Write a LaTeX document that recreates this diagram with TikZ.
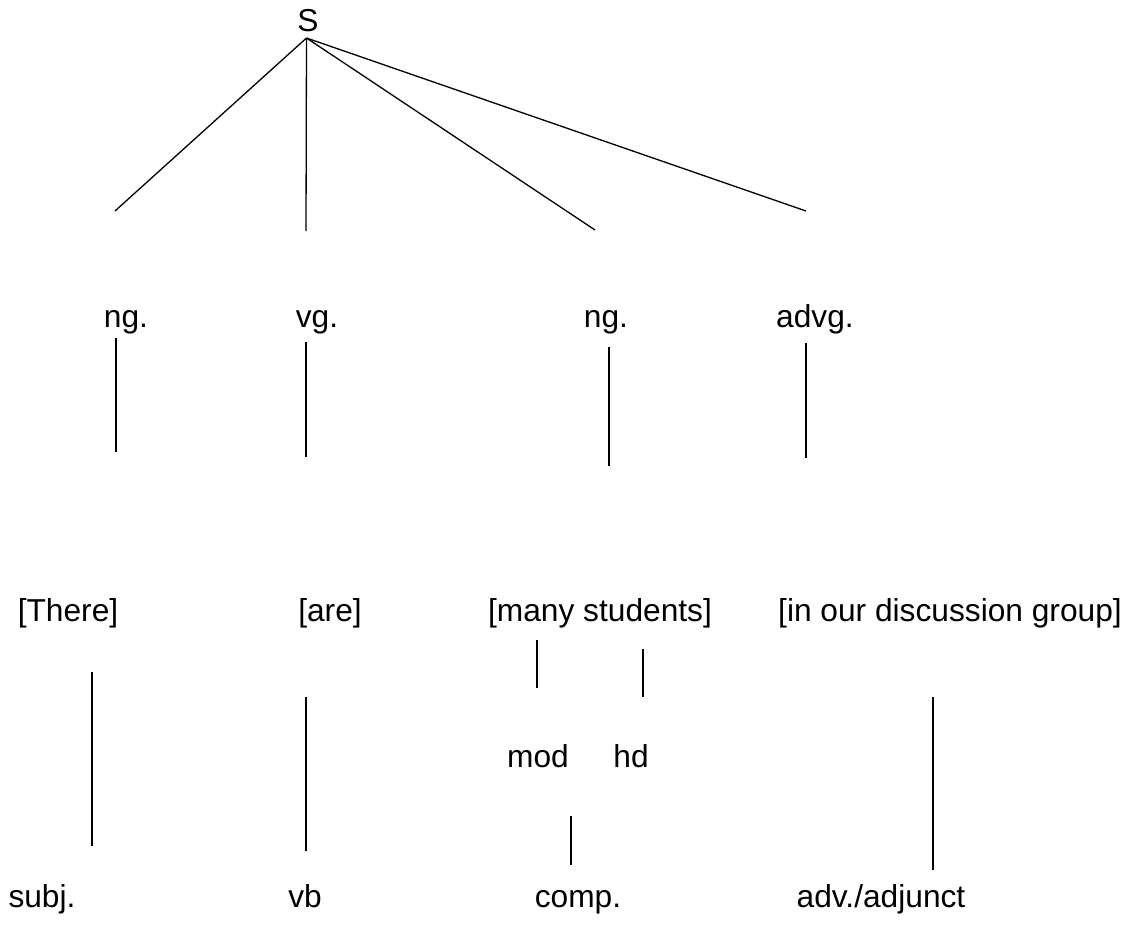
\documentclass[tikz,border=0pt]{standalone}
\usepackage{fontspec}
\setmainfont{Liberation Sans}
\begin{document}
\begin{tikzpicture}[x=1pt,y=-1pt,
  lbl/.style={anchor=base,inner sep=0pt,font=\fontsize{31.7}{38}\selectfont},
  edge/.style={line width=1.3pt,black}]
\useasboundingbox (0,0) rectangle (1130,924);
% labels
\node[lbl] (S) at (308,31) {S};
\node[lbl] (ng1) at (126,327) {ng.};
\node[lbl] (vg) at (317,327) {vg.};
\node[lbl] (ng2) at (606,327) {ng.};
\node[lbl] (advg) at (815,327) {advg.};
\node[lbl] (there) at (68,621) {[There]};
\node[lbl] (are) at (330,621) {[are]};
\node[lbl] (many) at (600,621) {[many students]};
\node[lbl] (inour) at (950,621) {[in our discussion group]};
\node[lbl] (mod) at (538,767) {mod};
\node[lbl] (hd) at (631,767) {hd};
\node[lbl] (subj) at (42,907) {subj.};
\node[lbl] (vb) at (305,907) {vb};
\node[lbl] (comp) at (578,907) {comp.};
\node[lbl] (adv) at (881,907) {adv./adjunct};
% connector end points
\coordinate (s0) at (306.5,38);
\coordinate (a1) at (115,211);
\coordinate (a2) at (306,231);
\coordinate (a3) at (595,230);
\coordinate (a4) at (806,211);
\coordinate (b1t) at (116,338); \coordinate (b1b) at (116,452);
\coordinate (b2t) at (306,342); \coordinate (b2b) at (306,457);
\coordinate (b3t) at (609,347); \coordinate (b3b) at (609,466);
\coordinate (b4t) at (806,343); \coordinate (b4b) at (806,458);
\coordinate (c1t) at (92,672); \coordinate (c1b) at (92,846);
\coordinate (c2t) at (306,697); \coordinate (c2b) at (306,851);
\coordinate (c3t) at (537,640); \coordinate (c3b) at (537,688);
\coordinate (c4t) at (643,649); \coordinate (c4b) at (643,697);
\coordinate (c5t) at (933,697); \coordinate (c5b) at (933,870);
\coordinate (d1t) at (571,816); \coordinate (d1b) at (571,865);
% connectors
\draw[edge] (s0) -- (a1);
\draw[edge] (s0) -- (a2);
\draw[edge] (s0) -- (a3);
\draw[edge] (s0) -- (a4);
\draw[edge] (b1t) -- (b1b);
\draw[edge] (b2t) -- (b2b);
\draw[edge] (b3t) -- (b3b);
\draw[edge] (b4t) -- (b4b);
\draw[edge] (c1t) -- (c1b);
\draw[edge] (c2t) -- (c2b);
\draw[edge] (c3t) -- (c3b);
\draw[edge] (c4t) -- (c4b);
\draw[edge] (c5t) -- (c5b);
\draw[edge] (d1t) -- (d1b);
\end{tikzpicture}
\end{document}
